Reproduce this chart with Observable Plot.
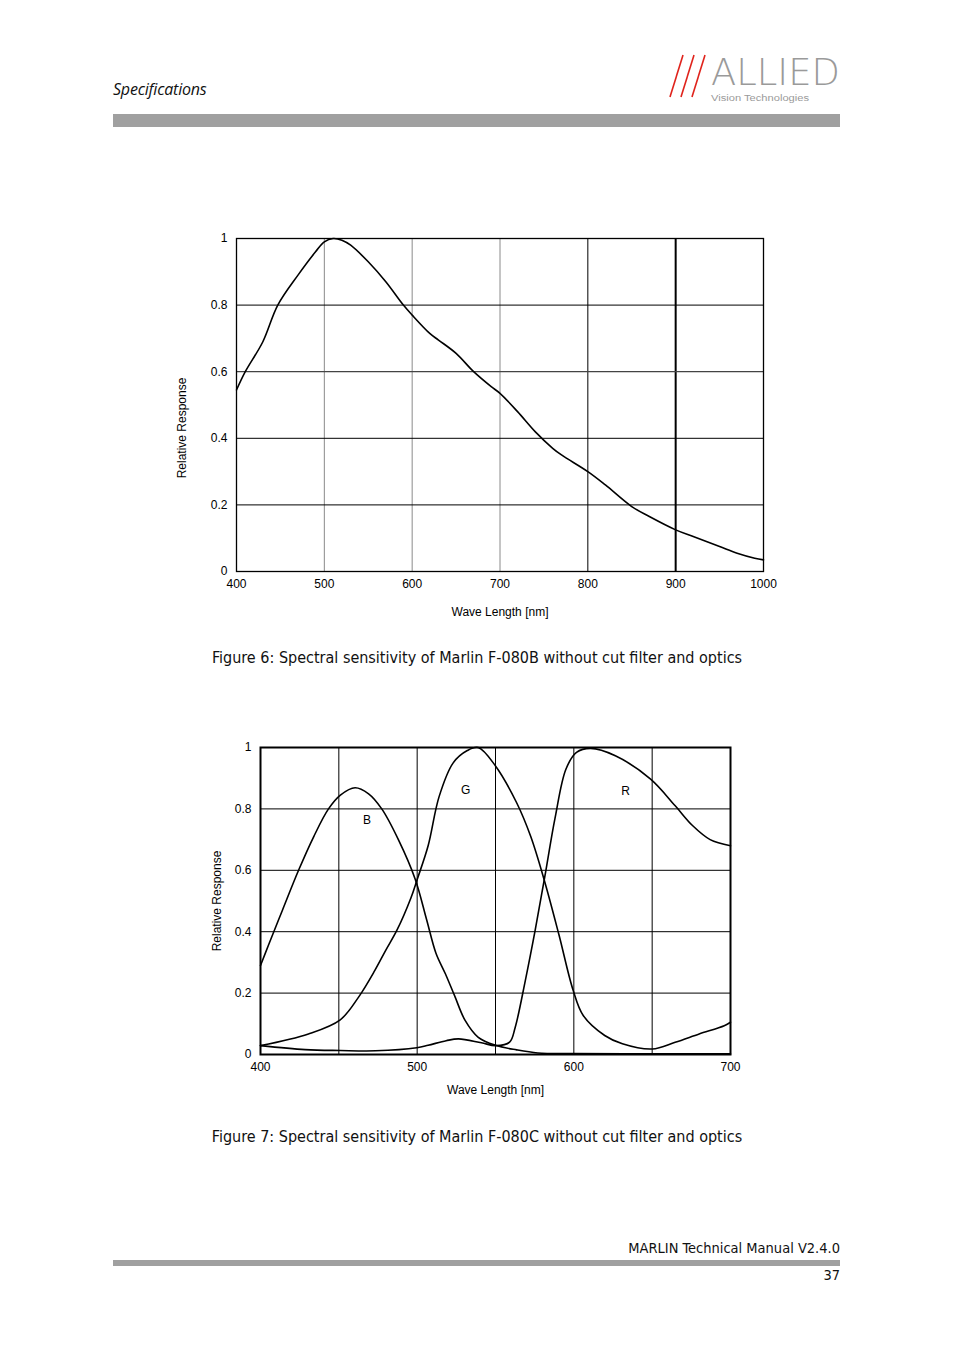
<!DOCTYPE html>
<html>
<head>
<meta charset="utf-8">
<script src="https://cdn.jsdelivr.net/npm/d3@7"></script>
<script src="https://cdn.jsdelivr.net/npm/@observablehq/plot@0.6"></script>
<style>
  html, body { margin: 0; padding: 0; background: #fff; }
  #page { position: relative; width: 954px; height: 1350px; overflow: hidden; font-family: "Liberation Sans Narrow", "DejaVu Sans Condensed", sans-serif; }
  .abs { position: absolute; }
  .bar { position: absolute; background: #a0a0a0; }
  .caption { position: absolute; left: 0; width: 954px; text-align: center; font-size: 16px; color: #111; white-space: nowrap; }
  .chart svg text { font-family: "Liberation Sans", Arial, sans-serif; }
</style>
</head>
<body>
<div id="page">
  <div class="abs" style="left:113px; top:78px; font-family:'Open Sans','Noto Sans',sans-serif; font-style:italic; font-size:16px; color:#111; letter-spacing:-0.2px;">Specifications</div>
  <svg class="abs" style="left:660px; top:45px;" width="190" height="62">
    <line x1="23" y1="10" x2="10" y2="52" stroke="#e0231c" stroke-width="1.6"/>
    <line x1="34" y1="10" x2="21" y2="52" stroke="#e0231c" stroke-width="1.6"/>
    <line x1="45" y1="10" x2="32" y2="52" stroke="#e0231c" stroke-width="1.6"/>
    <text x="51" y="39.5" font-family="'DejaVu Sans', sans-serif" font-weight="200" font-size="36.5" fill="#9a9a9a" textLength="129" lengthAdjust="spacingAndGlyphs">ALLIED</text>
    <text x="51" y="55.5" font-family="'Liberation Sans', sans-serif" font-size="8.5" fill="#9a9a9a" textLength="98" lengthAdjust="spacingAndGlyphs">Vision Technologies</text>
  </svg>
  <div class="bar" style="left:113px; top:114px; width:727px; height:13px;"></div>

  <div id="chart1" class="chart abs" style="left:160px; top:225px;"></div>
  <div class="caption" style="top:648px;">Figure 6: Spectral sensitivity of Marlin F-080B without cut filter and optics</div>

  <div id="chart2" class="chart abs" style="left:195px; top:735px;"></div>
  <div class="caption" style="top:1127px;">Figure 7: Spectral sensitivity of Marlin F-080C without cut filter and optics</div>

  <div class="abs" style="right:114px; top:1240px; font-size:14.5px; color:#111;">MARLIN Technical Manual V2.4.0</div>
  <div class="bar" style="left:113px; top:1260px; width:727px; height:6px;"></div>
  <div class="abs" style="right:114px; top:1267px; font-size:14.5px; color:#111;">37</div>
</div>
<script>
// ---------- Figure 6: monochrome sensor ----------
const monoWave = [400, 410, 430, 447, 470, 490, 500, 510, 520, 530, 550, 570, 590, 600, 620, 630, 650, 670, 690, 700, 720, 740, 760, 770, 800, 820, 850, 870, 900, 920, 950, 970, 990, 1000];
const monoResp = [0.545, 0.60, 0.69, 0.80, 0.89, 0.96, 0.99, 1.0, 0.995, 0.98, 0.93, 0.87, 0.80, 0.77, 0.715, 0.695, 0.655, 0.60, 0.555, 0.535, 0.48, 0.42, 0.37, 0.35, 0.30, 0.26, 0.195, 0.165, 0.125, 0.105, 0.075, 0.055, 0.04, 0.035];
const monoXTicks = [400, 500, 600, 700, 800, 900, 1000];
const yTicks = [0, 0.2, 0.4, 0.6, 0.8, 1];
const yTickLabels = ["0", "0.2", "0.4", "0.6", "0.8", "1"];
const xAxisTitle = "Wave Length [nm]";
const yAxisTitle = "Relative Response";

// ---------- Figure 7: colour sensor ----------
const blueWave = [400, 405, 414, 424.3, 434, 443.4, 451, 460.4, 469, 477.4, 488, 498.7, 506, 512, 518, 524, 530.6, 539, 550, 563.5, 577, 600, 650, 700];
const blueResp = [0.29, 0.355, 0.47, 0.60, 0.71, 0.80, 0.845, 0.869, 0.849, 0.80, 0.70, 0.572, 0.44, 0.33, 0.263, 0.19, 0.111, 0.056, 0.03, 0.015, 0.005, 0.003, 0.002, 0.002];
const greenWave = [400, 430.6, 450.9, 462.6, 473, 480, 487, 496, 500, 507, 514, 523, 532, 539, 550, 563.5, 572.5, 581, 590.5, 599.5, 606, 619.7, 631, 650, 664.7, 680, 696, 700];
const greenResp = [0.029, 0.067, 0.113, 0.187, 0.274, 0.34, 0.404, 0.51, 0.57, 0.68, 0.84, 0.95, 0.99, 1.0, 0.94, 0.82, 0.71, 0.57, 0.39, 0.21, 0.127, 0.062, 0.035, 0.018, 0.04, 0.067, 0.094, 0.105];
const redWave = [400, 428.5, 450.9, 473.5, 499.8, 507, 518.5, 526.4, 541, 550.2, 559, 562.6, 569, 575.3, 581.5, 588, 595, 601.7, 610.7, 626.5, 649, 664.7, 675.9, 687, 700];
const redResp = [0.029, 0.016, 0.013, 0.012, 0.022, 0.03, 0.045, 0.051, 0.038, 0.029, 0.04, 0.089, 0.24, 0.404, 0.58, 0.77, 0.93, 0.984, 0.997, 0.973, 0.897, 0.81, 0.745, 0.70, 0.68];
const colorXTicks = [400, 500, 600, 700];
const colorXGrid = [450, 500, 550, 600, 650];
const channelNames = ["B", "G", "R"];
const channelLabelX = [468, 531, 633];
const channelLabelY = [0.762, 0.86, 0.857];

const zip = (xs, ys, extra = {}) => xs.map((x, i) => ({x, y: ys[i], ...extra}));
const yFmt = (d) => yTickLabels[yTicks.indexOf(d)];
const xFmt = (d) => String(d);
const baseStyle = {fontSize: "12px", fontFamily: "'Liberation Sans', Arial, sans-serif", color: "#000", background: "transparent"};

const monoData = zip(monoWave, monoResp);
const chart1 = Plot.plot({
  width: 633, height: 396,
  marginLeft: 76, marginRight: 30, marginTop: 13, marginBottom: 50,
  style: baseStyle,
  x: {domain: [400, 1000], ticks: monoXTicks, tickFormat: xFmt, tickSize: 0, tickPadding: 8, label: xAxisTitle, labelAnchor: "center", labelArrow: "none", labelOffset: 44},
  y: {domain: [0, 1], ticks: yTicks, tickFormat: yFmt, tickSize: 0, tickPadding: 9, label: null},
  marks: [
    Plot.ruleX([500, 600, 700], {stroke: "#8a8a8a", strokeWidth: 1}),
    Plot.ruleX([800], {stroke: "#000", strokeWidth: 1}),
    Plot.ruleX([900], {stroke: "#000", strokeWidth: 2}),
    Plot.ruleY([0.2, 0.4, 0.8], {stroke: "#000", strokeWidth: 1}),
    Plot.ruleY([0.6], {stroke: "#444", strokeWidth: 1.3}),
    Plot.frame({stroke: "#000", strokeWidth: 1.3}),
    Plot.line(monoData, {x: "x", y: "y", curve: "catmull-rom", stroke: "#000", strokeWidth: 1.6}),
    Plot.text([yAxisTitle], {frameAnchor: "left", text: (d) => d, textAnchor: "middle", rotate: -90, dx: -54, dy: 23, fontSize: 12, fill: "#000"})
  ]
});
document.getElementById("chart1").appendChild(chart1);

const colorData = [
  ...zip(blueWave, blueResp, {ch: "B"}),
  ...zip(greenWave, greenResp, {ch: "G"}),
  ...zip(redWave, redResp, {ch: "R"})
];
const labelData = channelNames.map((n, i) => ({n, x: channelLabelX[i], y: channelLabelY[i]}));
const chart2 = Plot.plot({
  width: 560, height: 369,
  marginLeft: 65, marginRight: 25, marginTop: 12, marginBottom: 50,
  style: baseStyle,
  x: {domain: [400, 700], ticks: colorXTicks, tickFormat: xFmt, tickSize: 0, tickPadding: 8, label: xAxisTitle, labelAnchor: "center", labelArrow: "none", labelOffset: 39},
  y: {domain: [0, 1], ticks: yTicks, tickFormat: yFmt, tickSize: 0, tickPadding: 9, label: yAxisTitle, labelAnchor: "center", labelArrow: "none", labelOffset: 48},
  marks: [
    Plot.ruleX(colorXGrid, {stroke: "#000", strokeWidth: 1}),
    Plot.ruleY([0.2, 0.4, 0.6, 0.8], {stroke: "#000", strokeWidth: 1}),
    Plot.frame({stroke: "#000", strokeWidth: 2}),
    Plot.line(colorData, {x: "x", y: "y", z: "ch", curve: "catmull-rom", stroke: "#000", strokeWidth: 1.6}),
    Plot.text(labelData, {x: "x", y: "y", text: "n", fontSize: 12, fill: "#000"})
  ]
});
document.getElementById("chart2").appendChild(chart2);
</script>
</body>
</html>
